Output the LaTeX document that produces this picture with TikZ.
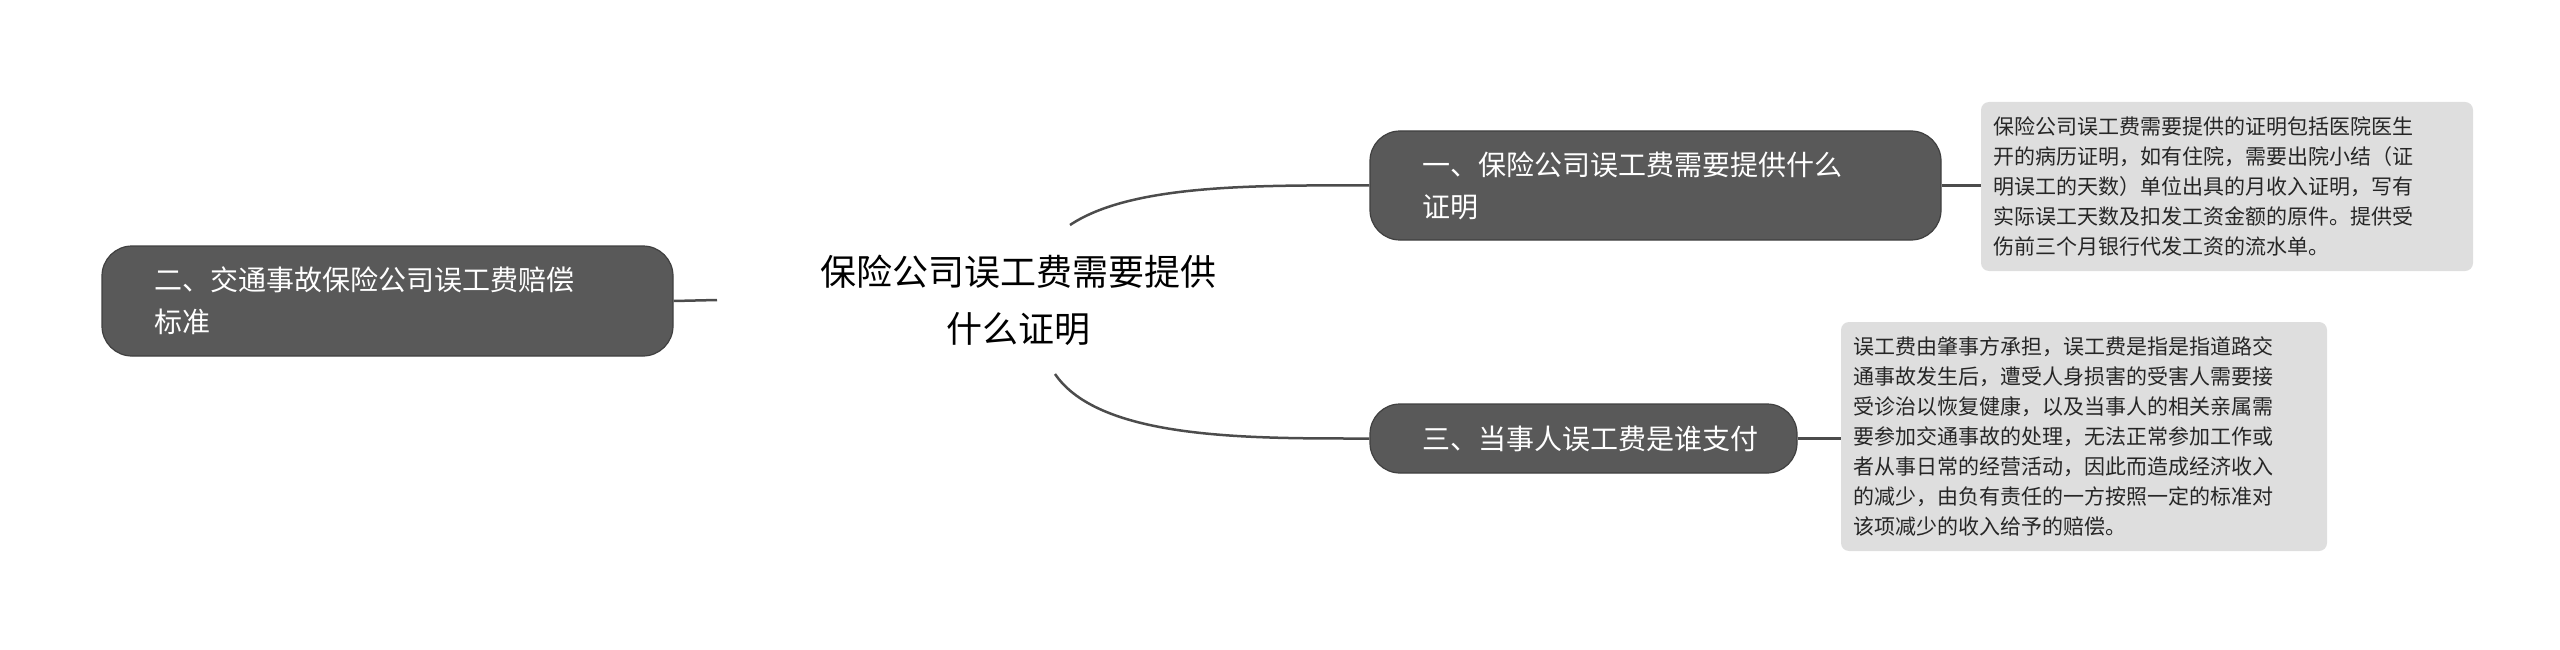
\documentclass[tikz,border=0pt]{standalone}
\usepackage{fontspec}
\setmainfont{Noto Sans CJK SC}
\begin{document}
\begin{tikzpicture}[x=1pt,y=-1pt,
  branch/.style={draw=black!75,line width=1.2pt,fill=black!65,text=white,rounded corners=30pt,align=left,font=\fontsize{28}{42}\selectfont,inner xsep=52pt,inner ysep=0pt,anchor=center},
  detail/.style={fill=black!13,rounded corners=8pt,align=left,font=\fontsize{21}{30}\selectfont,inner xsep=12pt,inner ysep=0pt,anchor=center,text=black!85},
  conn/.style={draw=black!70,line width=2.5pt}]
\useasboundingbox (0,0) rectangle (2560,650);
\node[font=\fontsize{36}{57}\selectfont,align=center] (root) at (1018,300) {保险公司误工费需要提供\\什么证明};
\node[branch,minimum width=571pt,minimum height=110pt,text width=467pt] (bl) at (387.5,301) {二、交通事故保险公司误工费赔偿\\标准};
\node[branch,minimum width=571pt,minimum height=109pt,text width=467pt] (b1) at (1655.5,185.5) {一、保险公司误工费需要提供什么\\证明};
\node[branch,minimum width=427pt,minimum height=69pt,text width=323pt,inner xsep=36pt] (b3) at (1583.5,438.5) {三、当事人误工费是谁支付};
\node[detail,minimum width=492pt,minimum height=169pt,text width=468pt] (d1) at (2227,186.5) {保险公司误工费需要提供的证明包括医院医生\\开的病历证明，如有住院，需要出院小结（证\\明误工的天数）单位出具的月收入证明，写有\\实际误工天数及扣发工资金额的原件。提供受\\伤前三个月银行代发工资的流水单。};
\node[detail,minimum width=486pt,minimum height=229pt,text width=462pt] (d3) at (2084,436.5) {误工费由肇事方承担，误工费是指是指道路交\\通事故发生后，遭受人身损害的受害人需要接\\受诊治以恢复健康，以及当事人的相关亲属需\\要参加交通事故的处理，无法正常参加工作或\\者从事日常的经营活动，因此而造成经济收入\\的减少，由负有责任的一方按照一定的标准对\\该项减少的收入给予的赔偿。};
\coordinate (c1) at (1070,225);
\coordinate (c3) at (1055,374);
\coordinate (cl) at (717,300);
\draw[conn] (c1) .. controls (1130,185) and (1250,185) .. (b1.west);
\draw[conn] (c3) .. controls (1100,440) and (1250,438.5) .. (b3.west);
\draw[conn] (cl) -- (bl.east);
\draw[conn] (b1.east) -- (d1.west |- b1.east);
\draw[conn] (b3.east) -- (d3.west |- b3.east);
\end{tikzpicture}
\end{document}
